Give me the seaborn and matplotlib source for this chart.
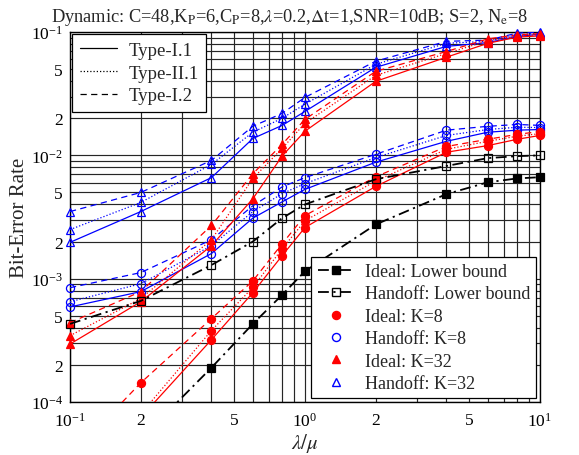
import numpy as np
import pandas as pd
import matplotlib
matplotlib.use("Agg")
import matplotlib.pyplot as plt
import seaborn as sns
from matplotlib.lines import Line2D
from matplotlib.ticker import FixedLocator, FuncFormatter

sns.set_theme(style="white")
plt.rcParams['font.family'] = ['Liberation Serif', 'DejaVu Serif']
plt.rcParams['mathtext.fontset'] = 'stix'

# Normalised traffic load lambda/mu
load = [0.1, 0.2, 0.4, 0.6, 0.8, 1.0, 2, 4, 6, 8, 10]

# Lower bounds
lb_ideal = [2.0e-5, 5.0e-5, 1.9e-4, 4.3e-4, 7.4e-4, 1.15e-3, 2.75e-3, 4.85e-3, 6.05e-3, 6.5e-3, 6.65e-3]
lb_handoff = [4.3e-4, 6.6e-4, 1.29e-3, 2.0e-3, 3.1e-3, 4.0e-3, 6.4e-3, 8.2e-3, 9.5e-3, 9.85e-3, 1.0e-2]

# Ideal, K=8
ideal_k8_t11 = [2.8e-5, 7.5e-5, 3.2e-4, 7.7e-4, 1.54e-3, 2.6e-3, 5.6e-3, 1.06e-2, 1.2e-2, 1.35e-2, 1.45e-2]
ideal_k8_t21 = [3.0e-5, 8.0e-5, 3.8e-4, 8.5e-4, 1.75e-3, 2.95e-3, 6.2e-3, 1.12e-2, 1.3e-2, 1.43e-2, 1.5e-2]
ideal_k8_t12 = [3.6e-5, 1.43e-4, 4.75e-4, 9.6e-4, 1.92e-3, 3.25e-3, 6.7e-3, 1.18e-2, 1.35e-2, 1.48e-2, 1.56e-2]

# Handoff, K=8
handoff_k8_t11 = [5.9e-4, 7.85e-4, 1.6e-3, 3.1e-3, 4.2e-3, 5.3e-3, 8.8e-3, 1.3e-2, 1.54e-2, 1.6e-2, 1.62e-2]
handoff_k8_t21 = [6.5e-4, 9.1e-4, 1.85e-3, 3.5e-3, 4.9e-3, 5.9e-3, 9.6e-3, 1.45e-2, 1.62e-2, 1.69e-2, 1.68e-2]
handoff_k8_t12 = [8.45e-4, 1.12e-3, 2.07e-3, 3.9e-3, 5.55e-3, 6.6e-3, 1.02e-2, 1.6e-2, 1.72e-2, 1.78e-2, 1.75e-2]

# Ideal, K=32
ideal_k32_t11 = [2.95e-4, 6.5e-4, 1.85e-3, 4.45e-3, 9.9e-3, 1.57e-2, 3.98e-2, 6.25e-2, 8.1e-2, 9.1e-2, 9.3e-2]
ideal_k32_t21 = [3.45e-4, 6.9e-4, 2.07e-3, 6.5e-3, 1.14e-2, 1.82e-2, 4.45e-2, 6.7e-2, 8.5e-2, 9.3e-2, 9.5e-2]
ideal_k32_t12 = [4.4e-4, 7.85e-4, 2.7e-3, 7.1e-3, 1.23e-2, 1.96e-2, 4.8e-2, 6.95e-2, 8.8e-2, 9.5e-2, 9.7e-2]

# Handoff, K=32
handoff_k32_t11 = [1.97e-3, 3.5e-3, 6.6e-3, 1.37e-2, 1.75e-2, 2.27e-2, 5.17e-2, 7.65e-2, 8.2e-2, 9.2e-2, 9.6e-2]
handoff_k32_t21 = [2.5e-3, 4.15e-3, 8.45e-3, 1.54e-2, 2.0e-2, 2.6e-2, 5.47e-2, 8.1e-2, 8.4e-2, 9.5e-2, 9.8e-2]
handoff_k32_t12 = [3.5e-3, 5.0e-3, 9.1e-3, 1.72e-2, 2.19e-2, 2.95e-2, 5.8e-2, 8.4e-2, 8.6e-2, 9.8e-2, 1.0e-1]

XMIN, XMAX = 0.1, 10
YMIN, YMAX = 1e-4, 1e-1

SOLID = '-'
DOTTED = (0, (1.0, 1.6))
DASHED = (0, (5.0, 3.5))
DASHDOT = (0, (6.0, 2.5, 1.2, 2.5))

fig = plt.figure(figsize=(5.79, 4.56), dpi=100)
ax = fig.add_axes([0.1209, 0.1162, 0.8117, 0.8114])
ax.set_xscale('log')
ax.set_yscale('log')


def draw(values, color, ls, marker, filled, ms, lw=0.9, z=3):
    df = pd.DataFrame({'load': load, 'ber': values})
    sns.lineplot(data=df, x='load', y='ber', ax=ax, color=color, linestyle=ls,
                 linewidth=lw, estimator=None, sort=False, legend=False, zorder=z)
    shown = df[(df['ber'] >= YMIN) & (df['ber'] <= YMAX)]
    sns.lineplot(data=shown, x='load', y='ber', ax=ax, color=color, linestyle='none',
                 marker=marker, markersize=ms,
                 markerfacecolor=color if filled else 'none',
                 markeredgecolor=color, markeredgewidth=0.9,
                 estimator=None, sort=False, legend=False, clip_on=False, zorder=z + 0.5)


styles = [SOLID, DOTTED, DASHED]
groups = [
    ([handoff_k32_t11, handoff_k32_t21, handoff_k32_t12], 'blue', '^', False, 6.0),
    ([handoff_k8_t11, handoff_k8_t21, handoff_k8_t12], 'blue', 'o', False, 5.8),
    ([ideal_k32_t11, ideal_k32_t21, ideal_k32_t12], 'red', '^', True, 6.0),
    ([ideal_k8_t11, ideal_k8_t21, ideal_k8_t12], 'red', 'o', True, 5.8),
]
for series, color, marker, filled, ms in groups:
    for vals, ls in zip(series, styles):
        draw(vals, color, ls, marker, filled, ms)

draw(lb_handoff, 'black', DASHDOT, 's', False, 5.5, lw=1.3, z=4)
draw(lb_ideal, 'black', DASHDOT, 's', True, 5.5, lw=1.3, z=4)

ax.set_xlim(XMIN, XMAX)
ax.set_ylim(YMIN, YMAX)


def minor_ticks(lo_exp, hi_exp):
    return [m * 10.0 ** e for e in range(lo_exp, hi_exp) for m in range(2, 10)]


def fmt_major(v, pos):
    return r'$\mathdefault{10^{%d}}$' % int(round(np.log10(v)))


def fmt_minor(v, pos):
    m = int(round(v / 10 ** np.floor(np.log10(v) + 1e-9)))
    return str(m) if m in (2, 5) else ''


ax.xaxis.set_major_locator(FixedLocator([0.1, 1, 10]))
ax.xaxis.set_minor_locator(FixedLocator(minor_ticks(-1, 1)))
ax.yaxis.set_major_locator(FixedLocator([1e-4, 1e-3, 1e-2, 1e-1]))
ax.yaxis.set_minor_locator(FixedLocator(minor_ticks(-4, -1)))
for axis in (ax.xaxis, ax.yaxis):
    axis.set_major_formatter(FuncFormatter(fmt_major))
    axis.set_minor_formatter(FuncFormatter(fmt_minor))
ax.tick_params(which='both', length=0, labelsize=12.5, colors='black')
ax.tick_params(axis='x', which='both', pad=7)
ax.tick_params(axis='y', which='both', pad=5)

ax.grid(True, which='both', color='0.15', linewidth=0.85)
ax.set_axisbelow(True)
for sp in ax.spines.values():
    sp.set_color('black')
    sp.set_linewidth(1.0)

ax.set_xlabel(r'$\lambda/\mu$', fontsize=15, labelpad=1)
ax.set_ylabel('Bit-Error Rate', fontsize=15, labelpad=1)
ax.set_title(r'Dynamic: C=48,K$_\mathrm{P}$=6,C$_\mathrm{P}$=8,$\lambda$=0.2,$\Delta$t=1,'
             r'SNR=10dB; S=2, N$_\mathrm{e}$=8', fontsize=13.2, pad=8, x=0.467)

type_handles = [
    Line2D([], [], color='black', linestyle=SOLID, linewidth=0.9),
    Line2D([], [], color='black', linestyle=DOTTED, linewidth=0.9),
    Line2D([], [], color='black', linestyle=DASHED, linewidth=0.9),
]
leg1 = ax.legend(type_handles, ['Type-I.1', 'Type-II.1', 'Type-I.2'], loc='upper left',
                 fontsize=13.5, frameon=True, fancybox=False, edgecolor='black', framealpha=1,
                 borderaxespad=0.12, handlelength=2.0, handletextpad=0.6, labelspacing=0.3,
                 borderpad=0.4)
leg1.get_frame().set_linewidth(0.9)
leg1.set_zorder(10)
ax.add_artist(leg1)

mark_handles = [
    Line2D([], [], color='black', linestyle=DASHDOT, linewidth=1.3, marker='s',
           markersize=5.5, markerfacecolor='black'),
    Line2D([], [], color='black', linestyle=DASHDOT, linewidth=1.3, marker='s',
           markersize=5.5, markerfacecolor='none'),
    Line2D([], [], color='red', linestyle='none', marker='o', markersize=5.8,
           markerfacecolor='red'),
    Line2D([], [], color='blue', linestyle='none', marker='o', markersize=5.8,
           markerfacecolor='none'),
    Line2D([], [], color='red', linestyle='none', marker='^', markersize=6.0,
           markerfacecolor='red'),
    Line2D([], [], color='blue', linestyle='none', marker='^', markersize=6.0,
           markerfacecolor='none'),
]
mark_labels = ['Ideal: Lower bound', 'Handoff: Lower bound', 'Ideal: K=8',
               'Handoff: K=8', 'Ideal: K=32', 'Handoff: K=32']
leg2 = ax.legend(mark_handles, mark_labels, loc='lower right', fontsize=13,
                 frameon=True, fancybox=False, edgecolor='black', framealpha=1,
                 borderaxespad=0.2, handlelength=2.0, handletextpad=0.6,
                 labelspacing=0.3, borderpad=0.35)
leg2.get_frame().set_linewidth(0.9)
leg2.set_zorder(10)

fig.savefig('out.png', dpi=100)
